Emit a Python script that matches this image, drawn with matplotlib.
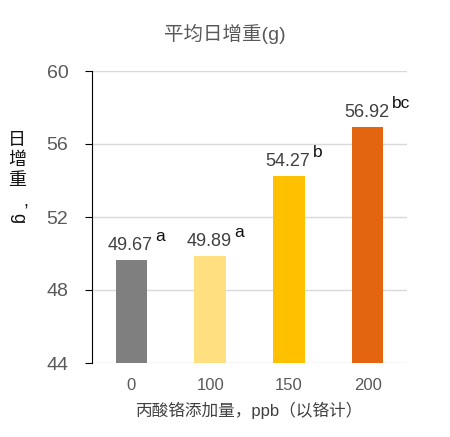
import matplotlib.pyplot as plt

plt.rcParams['font.family'] = ['Liberation Sans', 'Noto Sans CJK SC', 'DejaVu Sans']

# Data
doses = ['0', '100', '150', '200']
gains = [49.67, 49.89, 54.27, 56.92]
letters = ['a', 'a', 'b', 'bc']
colors = ['#7f7f7f', '#ffdf80', '#ffc000', '#e4650f']
yticks = [44, 48, 52, 56, 60]

fig = plt.figure(figsize=(4.5, 4.37), dpi=100)

ax = fig.add_axes([92 / 450, 74 / 437, 315 / 450, 292 / 437])

x = list(range(len(doses)))
ax.bar(x, gains, width=0.4, color=colors, zorder=3)

ax.set_xlim(-0.5, 3.5)
ax.set_ylim(44, 60)
ax.set_yticks(yticks)
ax.set_xticks(x)
ax.set_xticklabels(doses)
ax.grid(axis='y', color='#d9d9d9', linewidth=1, zorder=0)

for s in ['top', 'right', 'bottom']:
    ax.spines[s].set_visible(False)
ax.spines['left'].set_color('black')
ax.tick_params(axis='y', length=5, color='black', labelsize=14, labelcolor='#595959', pad=12)
ax.tick_params(axis='x', length=0, labelsize=12, labelcolor='#595959', pad=11)

# value labels with significance letters
for i, (v, lt) in enumerate(zip(gains, letters)):
    ax.annotate(f'{v:.2f}', (i, v), xytext=(-1, 10), textcoords='offset pixels',
                ha='center', va='baseline', fontsize=13, color='#404040')
    ax.annotate(lt, (i, v), xytext=(24, 19), textcoords='offset pixels',
                ha='left', va='baseline', fontsize=12.5, color='#111111')

ax.set_xlabel('丙酸铬添加量，ppb（以铬计）', fontsize=12, color='#404040', labelpad=6)

# vertical y label (Excel-style stacked text)
for ch, yy in zip(['日', '增', '重'], [141, 161, 181]):
    fig.text(17 / 450, 1 - yy / 437, ch, fontsize=13, color='#111111',
             ha='center', va='center')
fig.text(26 / 450, 1 - 202 / 437, ',', fontsize=13, color='#111111',
         ha='center', va='center')
fig.text(18 / 450, 1 - 218 / 437, 'g', fontsize=13, color='#111111',
         ha='center', va='center', rotation=-90)

fig.text(0.5, 1 - 34 / 437, '平均日增重(g)', fontsize=14, color='#595959',
         ha='center', va='center')

fig.savefig('out.png', dpi=100)
